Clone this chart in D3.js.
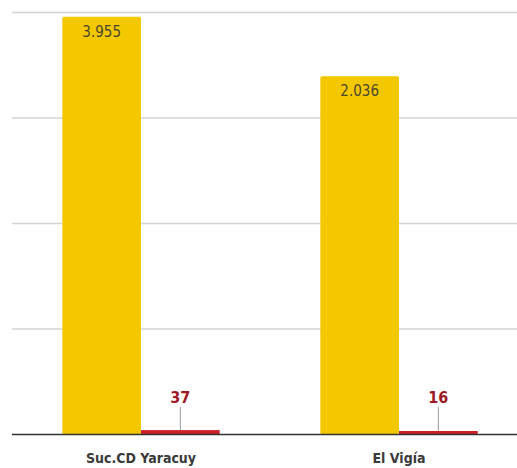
<!DOCTYPE html>
<html>
<head>
	<meta charset="utf-8">
	<title>Suc. CD Yaracuy / El Vigía</title>
	<script src="https://cdnjs.cloudflare.com/ajax/libs/d3/7.8.5/d3.min.js"></script>
	<style>
		body { margin: 0; background: #fff; }
		svg text { font-family: "Liberation Sans Narrow", "DejaVu Sans Condensed", "Liberation Sans", sans-serif; }
		.grid line { stroke: #d4d4d4; stroke-width: 1.5; }
		.grid path { display: none; }
	</style>
</head>
<body>
	<svg id="chart"></svg>
	<script>
		// categories and series
		var categories = ["Suc.CD Yaracuy", "El Vigía"];
		// bar heights as drawn in the source (the El Vigía yellow bar is drawn taller than its label)
		var yellowValues = [3955, 3390];
		var yellowLabels = ["3.955", "2.036"];
		var redValues = [37, 16];
		var redLabels = ["37", "16"];
		var gridTicks = [1000, 2000, 3000, 4000];

		var W = 517, H = 468;
		var left = 12, baseY = 434, topY = 12;

		var svg = d3.select("#chart").attr("width", W).attr("height", H);

		var x = d3.scaleBand().domain(categories).range([left, left + 516])
			.paddingInner(0.39).paddingOuter(0.195);
		var xs = d3.scaleBand().domain(["yellow", "red"]).range([0, x.bandwidth()]);
		var y = d3.scaleLinear().domain([0, 4000]).range([baseY, topY]);

		// gridlines
		svg.append("g")
			.attr("class", "grid")
			.attr("transform", "translate(" + left + ",0)")
			.call(d3.axisRight(y).tickValues(gridTicks).tickSize(W - left).tickFormat(""));

		var groups = svg.selectAll(".grp").data(categories).enter()
			.append("g")
			.attr("class", "grp")
			.attr("transform", function(d) { return "translate(" + x(d) + ",0)"; });

		// yellow bars
		groups.append("rect")
			.attr("x", xs("yellow"))
			.attr("width", xs.bandwidth())
			.attr("y", function(d, i) { return y(yellowValues[i]); })
			.attr("height", function(d, i) { return baseY - y(yellowValues[i]); })
			.attr("rx", 1.5)
			.attr("fill", "#f4c800");

		groups.append("text")
			.attr("x", xs("yellow") + xs.bandwidth() / 2)
			.attr("y", function(d, i) { return y(yellowValues[i]) + 20; })
			.attr("text-anchor", "middle")
			.attr("font-size", 15)
			.attr("fill", "#4a4630")
			.text(function(d, i) { return yellowLabels[i]; });

		// red bars (min visible height)
		groups.append("rect")
			.attr("x", xs("red"))
			.attr("width", xs.bandwidth())
			.attr("y", function(d, i) { return Math.min(y(redValues[i]), baseY - 3); })
			.attr("height", function(d, i) { return Math.max(baseY - y(redValues[i]), 3); })
			.attr("fill", "#cc1f2a");

		groups.append("line")
			.attr("x1", xs("red") + xs.bandwidth() / 2)
			.attr("x2", xs("red") + xs.bandwidth() / 2)
			.attr("y1", baseY - 27)
			.attr("y2", function(d, i) { return Math.min(y(redValues[i]), baseY - 3); })
			.attr("stroke", "#999")
			.attr("stroke-width", 1);

		groups.append("text")
			.attr("x", xs("red") + xs.bandwidth() / 2)
			.attr("y", baseY - 31)
			.attr("text-anchor", "middle")
			.attr("font-size", 16)
			.attr("font-weight", "bold")
			.attr("fill", "#9e1b25")
			.text(function(d, i) { return redLabels[i]; });

		// baseline
		svg.append("line")
			.attr("x1", left).attr("x2", W)
			.attr("y1", y(0) + 0.5).attr("y2", y(0) + 0.5)
			.attr("stroke", "#333")
			.attr("stroke-width", 1.5);

		// category labels
		groups.append("text")
			.attr("x", x.bandwidth() / 2)
			.attr("y", 463)
			.attr("text-anchor", "middle")
			.attr("font-size", 14)
			.attr("font-weight", "bold")
			.attr("fill", "#3a3a3a")
			.text(function(d) { return d; });
	</script>
</body>
</html>
